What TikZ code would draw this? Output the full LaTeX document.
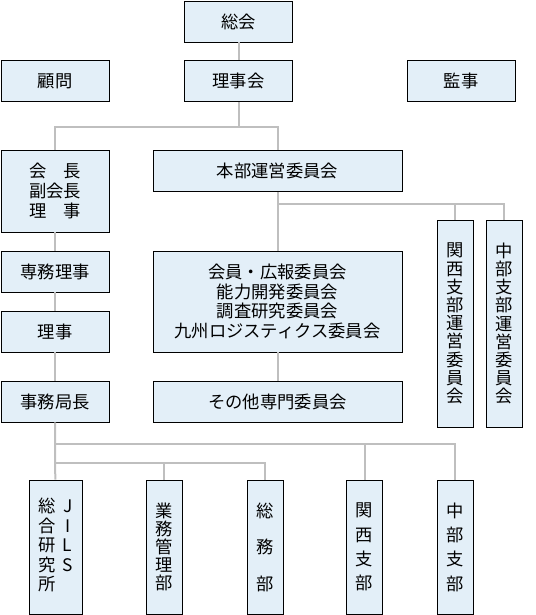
\documentclass[tikz,border=0pt]{standalone}
\usepackage{fontspec}
\setmainfont{Noto Sans CJK JP}
\usepackage{xcolor}
\usetikzlibrary{positioning}
\definecolor{boxblue}{HTML}{E3EFF8}
\definecolor{linegray}{HTML}{BFBFBF}

\begin{document}
\begin{tikzpicture}[
		x=1pt, y=-1pt,
		unit/.style={draw=black, fill=boxblue, line width=0.9pt, inner sep=0pt, align=center,
			minimum width=108pt, minimum height=41pt, font=\fontsize{17.3}{20}\selectfont},
		tall/.style={unit, minimum width=36pt, font=\fontsize{17.3}{18.2}\selectfont},
		link/.style={draw=linegray, line width=2pt}
		]
		\useasboundingbox (0,0) rectangle (535,615);
		
		% Les organes
		\node[unit] (soukai) at (238.5, 21.5) {総会};
		\node[unit] (komon) at (55, 81) {顧問};
		\node[unit] (rijikai) at (238.5, 81) {理事会};
		\node[unit] (kanji) at (461, 81) {監事};
		
		% Colonne de gauche
		\node[unit, minimum height=82pt] (kaicho) at (55, 191) {会　長\\副会長\\理　事};
		\node[unit] (senmu) at (55, 271.5) {専務理事};
		\node[unit] (riji) at (55, 331.5) {理事};
		\node[unit] (jimu) at (55, 401.5) {事務局長};
		
		% Les comités
		\node[unit, minimum width=249pt] (honbu) at (277.5, 171) {本部運営委員会};
		\node[unit, minimum width=249pt, minimum height=101pt, font=\fontsize{17.3}{19.5}\selectfont] (iinkai) at (277.5, 301.5)
			{会員・広報委員会\\能力開発委員会\\調査研究委員会\\九州ロジスティクス委員会};
		\node[unit, minimum width=249pt] (sonota) at (277.5, 401.5) {その他専門委員会};
		\node[tall, minimum height=207pt] (kansaiunei) at (455, 323.5) {関\\西\\支\\部\\運\\営\\委\\員\\会};
		\node[tall, minimum height=207pt] (chubuunei) at (504, 323.5) {中\\部\\支\\部\\運\\営\\委\\員\\会};
		
		% Les départements
		\node[tall, minimum width=53pt, minimum height=134pt] (jils) at (55.5, 547)
			{\begin{tabular}{@{}c@{\hspace{7pt}}c@{}}総&J\\合&I\\研&L\\究&S\\所&\end{tabular}};
		\node[tall, minimum height=134pt] (gyomu) at (164, 547) {業\\務\\管\\理\\部};
		\node[tall, minimum height=134pt, font=\fontsize{17.3}{36.5}\selectfont] (somu) at (265, 547) {総\\務\\部};
		\node[tall, minimum height=134pt, font=\fontsize{17.3}{24.3}\selectfont] (kansai) at (364.5, 547) {関\\西\\支\\部};
		\node[tall, minimum height=134pt, font=\fontsize{17.3}{24.3}\selectfont] (chubu) at (455, 547) {中\\部\\支\\部};
		
		% Points de jonction
		\coordinate (j1) at (238.5, 127);
		\coordinate (j2) at (277.5, 204);
		\coordinate (j3) at (55, 444);
		\coordinate (j4) at (55, 463);
		
		% Les liaisons
		\draw[link] (soukai) -- (rijikai);
		\draw[link] (rijikai) -- (j1);
		\draw[link] (kaicho.north) |- (j1);
		\draw[link] (honbu.north) |- (j1);
		\draw[link] (honbu) -- (iinkai);
		\draw[link] (kansaiunei.north) |- (j2);
		\draw[link] (chubuunei.north) |- (j2);
		\draw[link] (iinkai) -- (sonota);
		\draw[link] (kaicho) -- (senmu);
		\draw[link] (senmu) -- (riji);
		\draw[link] (riji) -- (jimu);
		\draw[link] (jimu) -- (jils);
		\draw[link] (kansai.north) |- (j3);
		\draw[link] (chubu.north) |- (j3);
		\draw[link] (gyomu.north) |- (j4);
		\draw[link] (somu.north) |- (j4);
	\end{tikzpicture}
\end{document}
